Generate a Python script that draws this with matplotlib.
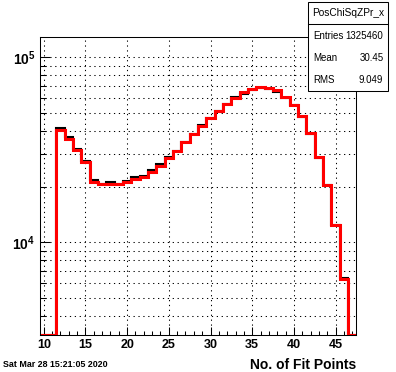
"""
plot.py
-------
ROOT-style log-scale histogram of the number of fit points, two overlaid
step histograms (black underneath, red on top) plus a stats box.
"""

import numpy as np
import matplotlib
matplotlib.use("Agg")
import matplotlib.pyplot as plt
from matplotlib.patches import Rectangle
from matplotlib.ticker import FixedLocator, NullFormatter

plt.rcParams["font.family"] = ["Liberation Sans", "DejaVu Sans"]
plt.rcParams["mathtext.fontset"] = "custom"
plt.rcParams["mathtext.rm"] = "Liberation Sans"
plt.rcParams["mathtext.bf"] = "Liberation Sans:bold"

# ── data (bin centres 10 … 47, width 1) ────────────────────────────────────────
BIN_CENTERS = list(range(10, 48))

RED_COUNTS = [
    0, 0,
    40300, 36100, 31400, 27000, 21300, 20600, 20600, 20600, 21100, 22000,
    22500, 24000, 25900, 28500, 31200, 34700, 38400, 42500, 47000, 51400,
    55600, 60600, 65000, 67400, 68800, 68000, 66200, 60800, 55400, 48000,
    38800, 28800, 20300, 12400, 6330,
    0,
]

BLACK_COUNTS = [
    0, 0,
    41300, 37000, 32100, 27400, 21600, 20700, 21100, 20700, 21500, 22400,
    22900, 24600, 26500, 29000, 31300, 34800, 38500, 43000, 47100, 51500,
    55700, 60700, 63500, 66400, 68500, 67200, 65100, 59900, 54900, 47800,
    38700, 28400, 20300, 12400, 6400,
    0,
]

HIST_NAME = "PosChiSqZPr_x"
STATS = [("Entries", "1325460"), ("Mean", "30.45"), ("RMS", "9.049")]
DATE_TEXT = "Sat Mar 28 15:21:05 2020"
X_LABEL = "No. of Fit Points"

X_MAJOR = [10, 15, 20, 25, 30, 35, 40, 45]
Y_MAJOR = [1e4, 1e5]
Y_MINOR = [4e3, 5e3, 6e3, 7e3, 8e3, 9e3,
           2e4, 3e4, 4e4, 5e4, 6e4, 7e4, 8e4, 9e4]

Y_RANGE = (10 ** 3.5, 10 ** 5.1086)


def main() -> None:
    centers = np.array(BIN_CENTERS, dtype=float)
    edges = np.append(centers - 0.5, centers[-1] + 0.5)
    ymin, ymax = Y_RANGE

    fig = plt.figure(figsize=(3.96, 3.72), dpi=100)
    ax = fig.add_axes([0.1, 0.1, 0.8, 0.8])

    # empty bins sit on the frame bottom, as ROOT draws them
    black = np.maximum(np.array(BLACK_COUNTS, dtype=float), ymin)
    red = np.maximum(np.array(RED_COUNTS, dtype=float), ymin)
    ax.stairs(black, edges, baseline=None, color="black", linewidth=1.5, zorder=3)
    ax.stairs(red, edges, baseline=None, color="#ff0000", linewidth=2.2, zorder=4)

    ax.set_yscale("log")
    ax.set_xlim(edges[0], edges[-1])
    ax.set_ylim(ymin, ymax)

    # ticks: inside, no right/top ticks
    ax.xaxis.set_major_locator(FixedLocator(X_MAJOR))
    ax.xaxis.set_minor_locator(FixedLocator(np.arange(10, 48, 1)))
    ax.set_xticklabels([str(v) for v in X_MAJOR], fontsize=9, fontweight="bold")
    ax.yaxis.set_major_locator(FixedLocator(Y_MAJOR))
    ax.yaxis.set_minor_locator(FixedLocator(Y_MINOR))
    ax.yaxis.set_minor_formatter(NullFormatter())
    ax.set_yticklabels([r"$\mathbf{10^{4}}$", r"$\mathbf{10^{5}}$"], fontsize=10)
    ax.tick_params(axis="both", which="both", direction="in", color="black",
                   width=0.75, top=False, right=False)
    ax.tick_params(axis="x", which="major", length=6, pad=3)
    ax.tick_params(axis="x", which="minor", length=3)
    ax.tick_params(axis="y", which="major", length=7, pad=3)
    ax.tick_params(axis="y", which="minor", length=4)

    # dotted grid: x at major ticks, y at every tick
    grid_kw = dict(color="black", linewidth=0.75, linestyle=(0, (1.2, 3.5)), zorder=1)
    for xv in X_MAJOR:
        ax.axvline(xv, **grid_kw)
    for yv in Y_MAJOR + Y_MINOR:
        ax.axhline(yv, **grid_kw)

    for sp in ax.spines.values():
        sp.set_linewidth(0.75)
        sp.set_zorder(5)

    ax.set_xlabel(X_LABEL, loc="right", fontsize=10, fontweight="bold", labelpad=5)

    # stats box (figure coords)
    bx0, bx1, by0, by1 = 0.7785, 0.98, 0.7554, 0.995
    fig.patches.append(Rectangle((bx0, by0), bx1 - bx0, by1 - by0,
                                 transform=fig.transFigure, facecolor="white",
                                 edgecolor="black", linewidth=0.75, zorder=10))
    fig.lines.append(plt.Line2D([bx0, bx1], [0.9355, 0.9355],
                                transform=fig.transFigure, color="black",
                                linewidth=0.75, zorder=11))
    fig.text((bx0 + bx1) / 2, 0.964, HIST_NAME, ha="center", va="center",
             fontsize=7.3, zorder=12)
    for (lab, val), yy in zip(STATS, [0.904, 0.845, 0.785]):
        fig.text(0.79, yy, lab, ha="left", va="center", fontsize=7, zorder=12)
        fig.text(0.968, yy, val, ha="right", va="center", fontsize=7, zorder=12)

    fig.text(0.008, 0.0215, DATE_TEXT, ha="left", va="center",
             fontsize=6.4, fontweight="bold")

    fig.savefig("out.png", dpi=100, facecolor="white")
    plt.close(fig)


if __name__ == "__main__":
    main()
